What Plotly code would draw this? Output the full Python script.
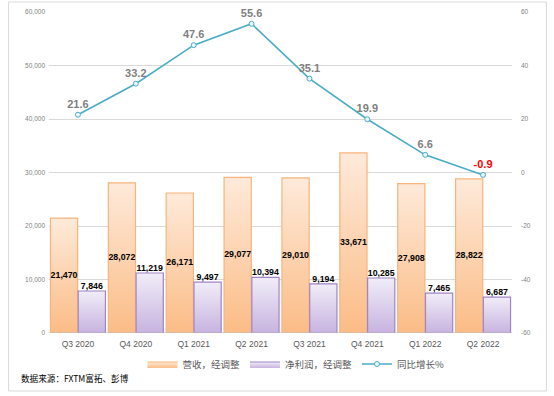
import plotly.graph_objects as go

categories = ["Q3 2020", "Q4 2020", "Q1 2021", "Q2 2021", "Q3 2021", "Q4 2021", "Q1 2022", "Q2 2022"]
revenue = [21470, 28072, 26171, 29077, 29010, 33671, 27908, 28822]
net_profit = [7846, 11219, 9497, 10394, 9194, 10285, 7465, 6687]
yoy_growth = [21.6, 33.2, 47.6, 55.6, 35.1, 19.9, 6.6, -0.9]
left_ticks = [0, 10000, 20000, 30000, 40000, 50000, 60000]
right_ticks = [-60, -40, -20, 0, 20, 40, 60]

rev_name = "营收，经调整"
net_name = "净利润，经调整"
yoy_name = "同比增长%"
source_text = "数据来源：FXTM富拓、彭博"

ORANGE_LINE = "#F8B47C"
ORANGE_TOP = "#FEEADA"
ORANGE_BOT = "#FBBC86"
PURPLE_LINE = "#A084C6"
PURPLE_TOP = "#F1EDF8"
PURPLE_BOT = "#C7B3E0"
TEAL = "#4BACC6"

CJK = "Noto Sans CJK SC"
NUM = "Liberation Sans"

fig = go.Figure()

def add_bar(xc, half, val, fill_top, fill_bot, edge, name, show):
    x0, x1 = xc - half, xc + half
    fig.add_trace(go.Scatter(
        x=[x0, x0, x1, x1, x0], y=[0, val, val, 0, 0],
        mode="lines", fill="toself",
        line=dict(color=edge, width=1.2),
        fillgradient=dict(type="vertical", colorscale=[[0, fill_bot], [1, fill_top]], start=0, stop=val),
        fillcolor=fill_bot,
        name=name, legendgroup=name, showlegend=show, hoverinfo="skip",
    ))

half = 0.235
for i, v in enumerate(revenue):
    add_bar(i - 0.24, half, v, ORANGE_TOP, ORANGE_BOT, ORANGE_LINE, rev_name, i == 0)
for i, v in enumerate(net_profit):
    add_bar(i + 0.24, half, v, PURPLE_TOP, PURPLE_BOT, PURPLE_LINE, net_name, i == 0)

idx = list(range(len(categories)))

# revenue labels (centered in bar)
fig.add_trace(go.Scatter(
    x=[i - 0.24 for i in idx], y=[v / 2 for v in revenue],
    mode="text", text=[f"{v:,}" for v in revenue], textposition="middle center",
    textfont=dict(family=NUM, size=8.8, color="#000000", weight="bold"),
    showlegend=False, hoverinfo="skip", cliponaxis=False,
))
# net profit labels (above bar)
fig.add_trace(go.Scatter(
    x=[i + 0.24 for i in idx], y=net_profit,
    mode="text", text=[f"{v:,}" for v in net_profit], textposition="top center",
    textfont=dict(family=NUM, size=8.8, color="#000000", weight="bold"),
    showlegend=False, hoverinfo="skip", cliponaxis=False,
))

# growth line
fig.add_trace(go.Scatter(
    x=idx, y=yoy_growth, yaxis="y2", name=yoy_name,
    mode="lines+markers+text",
    line=dict(color=TEAL, width=1.6),
    marker=dict(symbol="circle", size=5, color="#EAF6FA", line=dict(color=TEAL, width=1)),
    text=[f"{v}" for v in yoy_growth], textposition="top center",
    textfont=dict(family=NUM, size=11, weight="bold",
                  color=["#FF0000" if v < 0 else "#7F7F7F" for v in yoy_growth]),
    hoverinfo="skip", cliponaxis=False,
))

W, H = 554, 396
L, R, T, B = 48.5, 41.5, 12, 63
pw, ph = W - L - R, H - T - B

fig.update_layout(
    width=W, height=H,
    margin=dict(l=L, r=R, t=T, b=B, pad=0, autoexpand=False),
    paper_bgcolor="#FFFFFF", plot_bgcolor="#FFFFFF",
    font=dict(family=CJK, color="#595959"),
    xaxis=dict(
        range=[-0.5, len(categories) - 0.5],
        tickvals=idx, ticktext=categories,
        showgrid=False, zeroline=False, showline=False, ticks="",
        tickfont=dict(family=NUM, size=8.5, color="#595959"),
        ticklabelstandoff=4,
    ),
    yaxis=dict(
        range=[0, 60000], tickvals=left_ticks, ticktext=[f"{v:,}" for v in left_ticks],
        showgrid=True, gridcolor="#D9D9D9", gridwidth=1,
        zeroline=False, showline=False, ticks="",
        tickfont=dict(family=NUM, size=6.5, color="#7F7F7F"),
        ticklabelstandoff=3,
    ),
    yaxis2=dict(
        range=[-60, 60], overlaying="y", side="right",
        tickvals=right_ticks, ticktext=[str(v) for v in right_ticks],
        showgrid=False, zeroline=False, showline=False, ticks="",
        tickfont=dict(family=NUM, size=6.5, color="#7F7F7F"),
        ticklabelstandoff=8,
    ),
    legend=dict(
        orientation="h", x=(296 - L) / pw, xanchor="center",
        y=(H - B - 364) / ph, yanchor="middle",
        font=dict(family=CJK, size=9.5, color="#595959"),
        itemwidth=30, tracegroupgap=0,
        bgcolor="rgba(0,0,0,0)",
    ),
    showlegend=True,
)

# baseline
fig.add_shape(type="line", xref="paper", yref="y", x0=0, x1=1, y0=0, y1=0,
              line=dict(color="#BFBFBF", width=1))
# outer border
fig.add_shape(type="rect", xref="paper", yref="paper",
              x0=(8 - L) / pw, x1=(547 - L) / pw,
              y0=(H - B - 391) / ph, y1=(H - B - 2) / ph,
              line=dict(color="#D9D9D9", width=1), layer="below")

fig.add_annotation(
    text=source_text, xref="paper", yref="paper",
    x=(18 - L) / pw, y=(H - B - 378) / ph, xanchor="left", yanchor="middle",
    showarrow=False, font=dict(family=CJK, size=8.6, color="#000000"),
)

fig.write_html("out.html", config={"displayModeBar": False},
               post_script="document.body.style.margin='0';")
